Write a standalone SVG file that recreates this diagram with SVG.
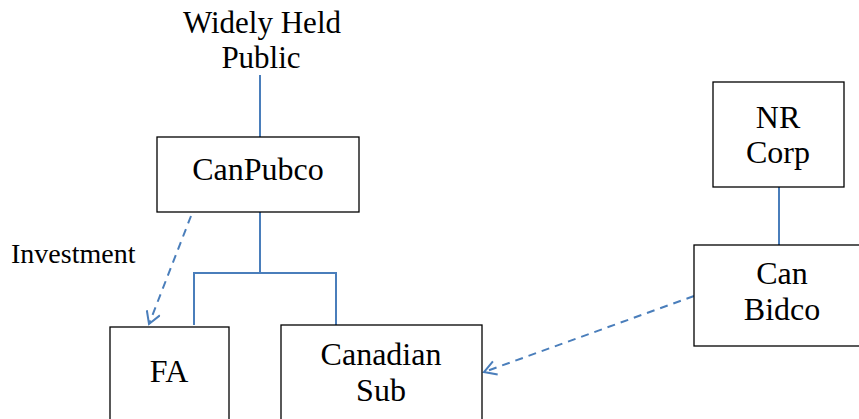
<svg xmlns="http://www.w3.org/2000/svg" width="859" height="419" viewBox="0 0 859 419">
<defs>
<style>
.box{fill:#fff;stroke:#000;stroke-width:1.3}
.t{font-family:"Liberation Serif","Times New Roman",serif;font-size:32px;fill:#000;text-anchor:middle}
.ln{stroke:#4a7ebb;stroke-width:2;fill:none}
.ds{stroke:#4a7ebb;stroke-width:2;fill:none;stroke-dasharray:8,6}
</style>
<marker id="arr" markerWidth="16" markerHeight="16" refX="13" refY="8" orient="auto" markerUnits="userSpaceOnUse">
<path d="M1,1 L13,8 L1,15" fill="none" stroke="#4a7ebb" stroke-width="2"/>
</marker>
</defs>
<g id="connectors">
<line class="ln" x1="260" y1="75" x2="260" y2="137"/>
<polyline class="ln" points="194,325 194,273 336,273 336,325"/>
<line class="ln" x1="260" y1="212" x2="260" y2="273"/>
<line class="ln" x1="779" y1="187" x2="779" y2="245"/>
<line class="ds" x1="191" y1="216" x2="149" y2="324" marker-end="url(#arr)"/>
<line class="ds" x1="694" y1="296" x2="484" y2="372" marker-end="url(#arr)"/>
</g>
<g id="public">
<text class="t" x="262" y="33" style="font-size:31px">Widely Held</text>
<text class="t" x="261" y="68" style="font-size:31px">Public</text>
</g>
<g id="canpubco">
<rect class="box" x="157" y="137" width="202" height="75"/>
<text class="t" x="258" y="180">CanPubco</text>
</g>
<g id="investment">
<text x="11" y="263" style="font-family:'Liberation Serif','Times New Roman',serif;font-size:28px">Investment</text>
</g>
<g id="fa">
<rect class="box" x="110" y="327" width="119" height="100"/>
<text class="t" x="169" y="382">FA</text>
</g>
<g id="canadiansub">
<rect class="box" x="281" y="325" width="201" height="100"/>
<text class="t" x="381" y="365">Canadian</text>
<text class="t" x="381" y="401">Sub</text>
</g>
<g id="nrcorp">
<rect class="box" x="713" y="82" width="131" height="105"/>
<text class="t" x="778" y="128">NR</text>
<text class="t" x="778" y="163">Corp</text>
</g>
<g id="canbidco">
<rect class="box" x="694" y="245" width="170" height="101"/>
<text class="t" x="782" y="284">Can</text>
<text class="t" x="782" y="320">Bidco</text>
</g>
</svg>
